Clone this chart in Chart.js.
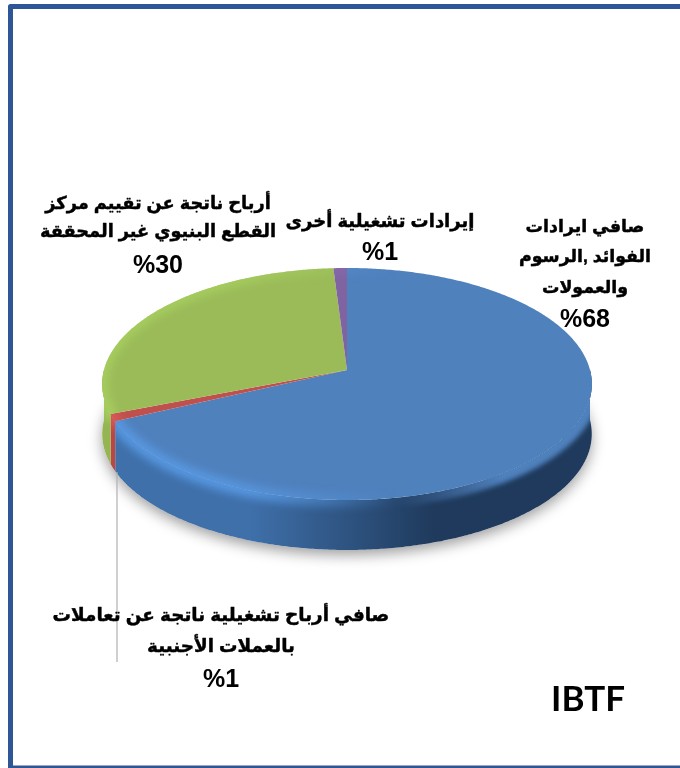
<!DOCTYPE html>
<html><head><meta charset="utf-8">
<style>
html,body{margin:0;padding:0;background:#fff;width:680px;height:768px;overflow:hidden}
#wrap{position:absolute;left:0;top:0;width:680px;height:768px}
</style>
<script src="https://cdn.jsdelivr.net/npm/chart.js@4"></script>
</head><body>
<div id="wrap"><canvas id="c" width="680" height="768"></canvas></div>
<script>
const categories = ["صافي ايرادات الفوائد ,الرسوم والعمولات","صافي أرباح تشغيلية ناتجة عن تعاملات بالعملات الأجنبية","أرباح ناتجة عن تقييم مركز القطع البنيوي غير المحققة","إيرادات تشغيلية أخرى"];
const values = [68, 1, 30, 1];
const percentLabels = ["%68","%1","%30","%1"];
const sliceColors = ["#4f81bd","#c0504d","#9bbb59","#8064a2"];
const wallLight = ["#3f70aa","#b84844","#94b552","#6a5288"];
const wallDark = ["#1f3a5c","#7a2e2c","#5f7534","#4a3a60"];
const rimRGB = ["92,160,238","226,92,88","170,212,96","150,120,190"];
const labelLines = [
  ["صافي ايرادات","الفوائد ,الرسوم","والعمولات"],
  ["صافي أرباح تشغيلية ناتجة عن تعاملات","بالعملات الأجنبية"],
  ["أرباح ناتجة عن تقييم مركز","القطع البنيوي غير المحققة"],
  ["إيرادات تشغيلية أخرى"]
];
const badge = "IBTF";

const VIEW = {squash:0.4704, persp:-0.1207, depth:50};
const LAYOUT = [
  {x:585,size:17.4,y:[227,257,288,320]},
  {x:221,size:18.4,y:[616,647,680]},
  {x:158,size:17.8,y:[204,232,266]},
  {x:380,size:18,y:[222,253]}
];
const FONT_FAMILY = '"Liberation Sans","DejaVu Sans",sans-serif';

function proj(el,t){
  const s=Math.sin(t),c=Math.cos(t),d=1+VIEW.persp*s,r=el.outerRadius;
  return [el.x+r*c/d, el.y+r*VIEW.squash*s/d];
}
function rimPath(ctx,el,a,b,dy){
  const n=Math.max(2,Math.ceil(Math.abs(b-a)/0.01));
  for(let i=0;i<=n;i++){
    const p=proj(el,a+(b-a)*i/n);
    ctx.lineTo(p[0],p[1]+(dy||0));
  }
}
function blurRim(ctx,el,lo,hi,style,width,blur,alpha){
  ctx.save();
  ctx.filter='blur('+blur+'px)';
  ctx.globalAlpha=alpha;
  ctx.beginPath();
  const q=proj(el,lo);ctx.moveTo(q[0],q[1]);
  rimPath(ctx,el,lo,hi,0);
  ctx.strokeStyle=style;ctx.lineWidth=width;ctx.lineCap='round';ctx.stroke();
  ctx.restore();
}
function hGrad(ctx,el,stops){
  const g=ctx.createLinearGradient(el.x-el.outerRadius,0,el.x+el.outerRadius,0);
  stops.forEach(([p,c])=>g.addColorStop(p,c));
  return g;
}
const pie3d={
  id:'pie3d',
  beforeDatasetsDraw(chart){
    const ctx=chart.ctx, arcs=chart.getDatasetMeta(0).data, D=VIEW.depth;
    const el0=arcs[0];
    ctx.save();
    ctx.shadowColor='rgba(0,0,0,0.38)';ctx.shadowBlur=14;ctx.shadowOffsetX=0;ctx.shadowOffsetY=5;
    ctx.fillStyle='#fff';
    ctx.beginPath();rimPath(ctx,el0,0,Math.PI*2,D);ctx.closePath();ctx.fill();
    ctx.restore();
    arcs.forEach((el,i)=>{
      const a=el.startAngle,b=el.endAngle;
      [[a,b],[a-2*Math.PI,b-2*Math.PI]].forEach(([u,v])=>{
        const lo=Math.max(u,0),hi=Math.min(v,Math.PI);
        if(hi<=lo)return;
        const on='rgba('+rimRGB[i]+',1)',off='rgba('+rimRGB[i]+',0)';
        ctx.save();
        ctx.beginPath();
        const p0=proj(el,lo);ctx.moveTo(p0[0],p0[1]);
        rimPath(ctx,el,lo,hi,0);
        rimPath(ctx,el,hi,lo,D);
        ctx.closePath();
        ctx.fillStyle=hGrad(ctx,el,[[0,wallLight[i]],[0.3,wallLight[i]],[0.68,wallDark[i]],[1,wallDark[i]]]);
        ctx.fill();
        ctx.clip();
        blurRim(ctx,el,lo,hi,hGrad(ctx,el,[[0,on],[0.3,on],[0.62,off],[1,off]]),14,4,0.8);
        if(i===0){
          const f0='rgba(79,129,189,0)',f1='rgba(79,129,189,1)';
          blurRim(ctx,el,lo,hi,hGrad(ctx,el,[[0,f0],[0.6,f0],[0.82,f1],[1,f1]]),18,2.5,1);
        }
        ctx.restore();
      });
    });
  },
  beforeDatasetDraw(chart){
    const ctx=chart.ctx, arcs=chart.getDatasetMeta(0).data;
    arcs.forEach((el,i)=>{
      const on='rgba('+rimRGB[i]+',1)',off='rgba('+rimRGB[i]+',0)';
      ctx.save();
      ctx.beginPath();ctx.moveTo(el.x,el.y);
      rimPath(ctx,el,el.startAngle,el.endAngle,0);
      ctx.closePath();
      ctx.fillStyle=sliceColors[i];ctx.fill();
      ctx.clip();
      blurRim(ctx,el,el.startAngle,el.endAngle,hGrad(ctx,el,[[0,on],[0.25,on],[0.6,off],[1,off]]),12,4,0.7);
      ctx.restore();
    });
    return false;
  },
  afterDatasetsDraw(chart){
    const ctx=chart.ctx;
    ctx.save();
    ctx.strokeStyle='#b0b0b0';ctx.lineWidth=1.2;
    ctx.beginPath();ctx.moveTo(117,472);ctx.lineTo(117,662);ctx.stroke();
    ctx.fillStyle='#000';ctx.strokeStyle='#000';ctx.textAlign='center';ctx.textBaseline='middle';ctx.lineJoin='round';
    labelLines.forEach((lines,i)=>{
      const L=LAYOUT[i];
      ctx.direction='rtl';ctx.font='bold '+L.size+'px '+FONT_FAMILY;ctx.lineWidth=0.45;
      lines.forEach((t,j)=>{ctx.fillText(t,L.x,L.y[j]);ctx.strokeText(t,L.x,L.y[j]);});
      ctx.direction='ltr';ctx.font='bold 25px '+FONT_FAMILY;
      ctx.fillText(percentLabels[i],L.x,L.y[lines.length]);
    });
    ctx.font='bold 35px Lato,sans-serif';ctx.direction='ltr';
    ctx.fillText(badge,588,700);
    ctx.strokeStyle='#2e5596';ctx.lineWidth=5;
    ctx.beginPath();ctx.moveTo(680,6.5);ctx.lineTo(10.5,6.5);ctx.lineTo(10.5,768);ctx.stroke();
    ctx.lineWidth=3;
    ctx.beginPath();ctx.moveTo(8,767);ctx.lineTo(680,767);ctx.stroke();
    ctx.restore();
  }
};
new Chart(document.getElementById('c'),{
  type:'pie',
  data:{labels:categories,datasets:[{data:values,backgroundColor:sliceColors,borderWidth:0}]},
  options:{
    responsive:false,animation:false,rotation:0,
    layout:{padding:{left:104,right:90,top:127,bottom:155}},
    plugins:{legend:{display:false},tooltip:{enabled:false}}
  },
  plugins:[pie3d]
});
</script>
</body></html>
